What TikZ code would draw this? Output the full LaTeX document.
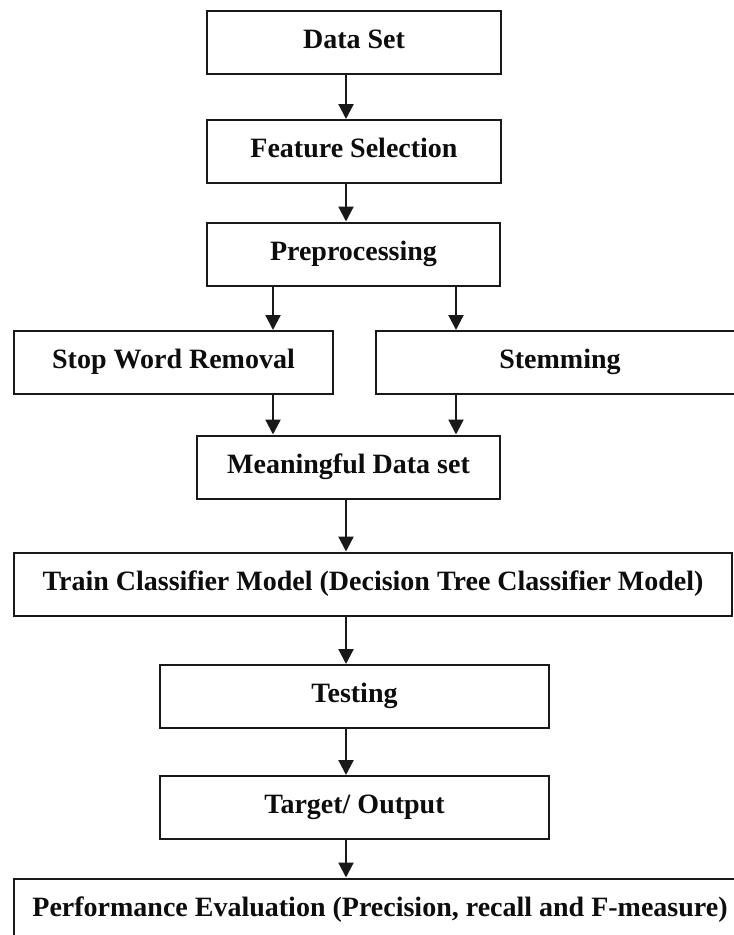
\documentclass[tikz,border=0pt]{standalone}
\usepackage{fontspec}
\setmainfont{Liberation Serif}
\usetikzlibrary{positioning,arrows.meta}

\tikzset{
    box/.style={draw=black!90, line width=2pt, minimum height=63pt, inner sep=0pt,
        text height=19pt, text depth=7pt, text=black!95,
        font=\fontsize{28}{32}\selectfont\bfseries},
    flow/.style={draw=black!90, line width=2.2pt, -{Triangle[length=15pt,width=15pt]}},
}

\begin{document}
\begin{tikzpicture}[x=1pt,y=-1pt]
    \clip (0,0) rectangle (734,935);
    \fill[white] (0,0) rectangle (734,935);

    % main column
    \node[box,minimum width=294pt] (data) at (354,42.5) {Data Set};
    \node[box,minimum width=294pt,below=44pt of data] (feat) {Feature Selection};
    \node[box,minimum width=293pt] (prep) at (353.5,254) {Preprocessing};

    % two branches
    \node[box,minimum width=319pt] (stop) at (173.5,362.5) {Stop Word Removal};
    \node[box,minimum width=368pt] (stem) at (560,362.5) {Stemming};

    \node[box,minimum width=303pt] (mean) at (348.5,467) {Meaningful Data set};
    \node[box,minimum width=718pt] (train) at (373,584) {Train Classifier Model (Decision Tree Classifier Model)};
    \node[box,minimum width=389pt] (test) at (354.5,696.5) {Testing};
    \node[box,minimum width=389pt,below=46pt of test] (target) {Target/ Output};
    \node[box,minimum width=732pt] (perf) at (380,910) {Performance Evaluation (Precision, recall and F-measure)};

    % arrow lines
    \coordinate (mid) at (346,0);
    \coordinate (lft) at (273,0);
    \coordinate (rgt) at (456,0);

    \draw[flow] (data.south -| mid) -- (feat.north -| mid);
    \draw[flow] (feat.south -| mid) -- (prep.north -| mid);
    \draw[flow] (prep.south -| lft) -- (stop.north -| lft);
    \draw[flow] (prep.south -| rgt) -- (stem.north -| rgt);
    \draw[flow] (stop.south -| lft) -- (mean.north -| lft);
    \draw[flow] (stem.south -| rgt) -- (mean.north -| rgt);
    \draw[flow] (mean.south -| mid) -- (train.north -| mid);
    \draw[flow] (train.south -| mid) -- (test.north -| mid);
    \draw[flow] (test.south -| mid) -- (target.north -| mid);
    \draw[flow] (target.south -| mid) -- (perf.north -| mid);
\end{tikzpicture}
\end{document}
